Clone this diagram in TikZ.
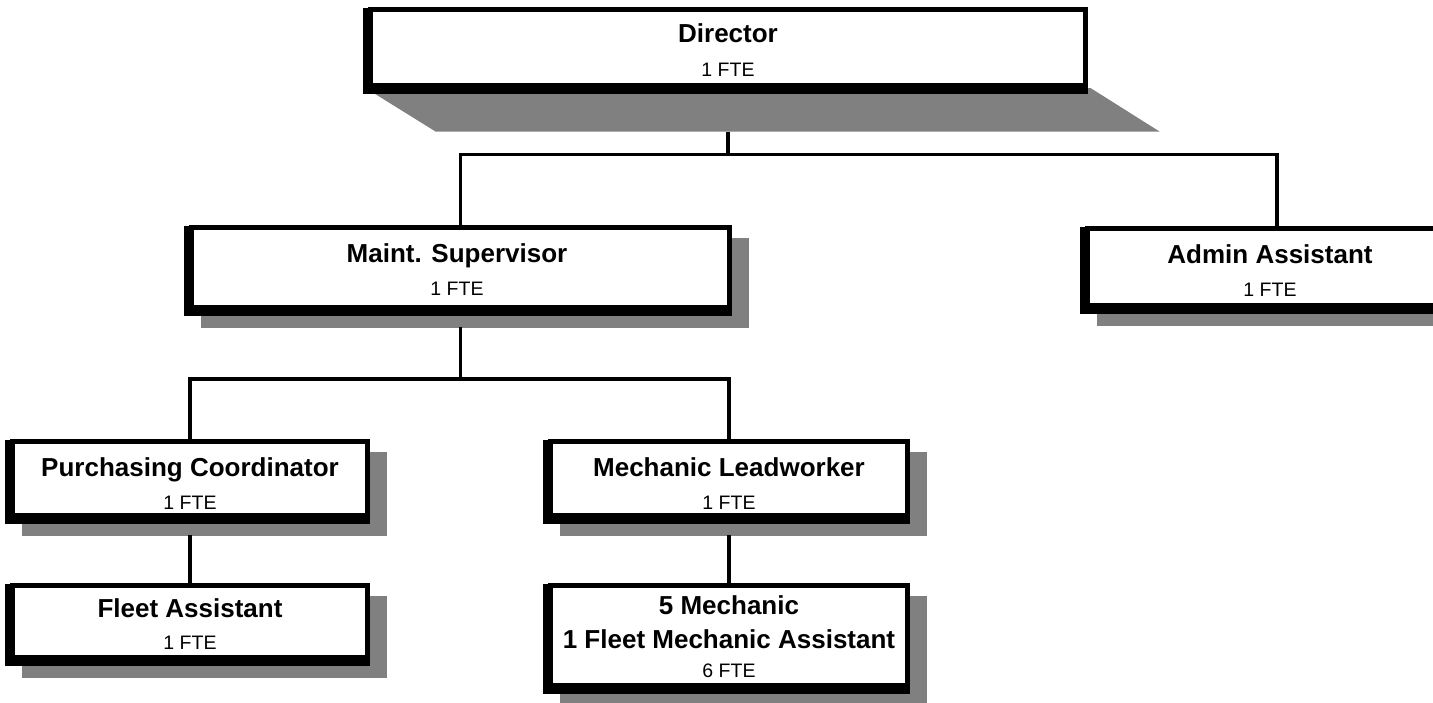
\documentclass[tikz,border=0pt]{standalone}
\usepackage{fontspec}
\setmainfont{Liberation Sans}
\usetikzlibrary{calc,backgrounds}
\definecolor{shgray}{RGB}{128,128,128}
\newcommand\orgdeco[1]{%
  \fill[shgray] ($(#1.south west)+(11.5,17.5)$) rectangle ($(#1.north east)+(16.5,12.5)$);
  \fill[black] ($(#1.south west)+(-5.5,5.5)$) rectangle ($(#1.north east)+(-0.5,0.5)$);}
\begin{document}
\begin{tikzpicture}[x=1pt,y=-1pt,
  box/.style={draw=black, line width=5pt, fill=white, inner sep=0pt, rectangle},
  conn/.style={draw=black, line width=3.5pt},
  ttl/.style={font=\fontsize{26}{30}\selectfont\bfseries, anchor=base, inner sep=0pt},
  fte/.style={font=\fontsize{19.5}{24}\selectfont, anchor=base, inner sep=0pt}]
\useasboundingbox (0,0) rectangle (1433,702);

% boxes
\node[box, minimum width=715pt, minimum height=76pt] (dir) at (728,47.5) {};
\node[box, minimum width=538pt, minimum height=80pt] (maint) at (460.5,267.5) {};
\node[box, minimum width=379pt, minimum height=77pt] (admin) at (1277,267) {};
\node[box, minimum width=355pt, minimum height=74pt] (purch) at (190,478.5) {};
\node[box, minimum width=357pt, minimum height=74pt] (lead) at (729,478.5) {};
\node[box, minimum width=355pt, minimum height=72pt] (fleet) at (190,621.5) {};
\node[box, minimum width=357pt, minimum height=100pt] (mech) at (729,635.5) {};

% shadows
\begin{scope}[on background layer]
  \fill[shgray] ($(dir.south west)+(-2.5,0)$) -- ($(dir.south east)+(2.5,0)$) -- ++(69,43.5)
    -- ($(dir.south west)+(67.5,43.5)$) -- cycle;
  \fill[black] ($(dir.south west)+(-5.5,5.5)$) rectangle ($(dir.north east)+(-0.5,0.5)$);
  \orgdeco{maint}
  \orgdeco{admin}
  \orgdeco{purch}
  \orgdeco{lead}
  \orgdeco{fleet}
  \orgdeco{mech}
\end{scope}

% connectors
\path (dir.south) ++(0,43.5) coordinate (dirsh);
\draw[conn] (dirsh) -- ++(0,23) coordinate (j1);
\draw[conn] (maint.north) |- (j1) -| (admin.north);
\path (maint.south) ++(0,16.5) coordinate (msh);
\draw[conn] (msh) -- ++(0,52.5) coordinate (j2);
\draw[conn] (purch.north) |- (j2) -| (lead.north);
\path (purch.south) ++(0,17) coordinate (psh);
\draw[conn] (psh) -- (fleet.north);
\path (lead.south) ++(0,17) coordinate (lsh);
\draw[conn] (lsh) -- (mech.north);

% texts
\node[ttl] (dirT) at (728,42) {Director};
\node[fte] (dirF) at (728,76) {1 FTE};
\node[ttl] (maintT) at (457,262.3) {Maint. Supervisor};
\node[fte] (maintF) at (457,295) {1 FTE};
\node[ttl] (adminT) at (1270,263) {Admin Assistant};
\node[fte] (adminF) at (1270,296) {1 FTE};
\node[ttl] (purchT) at (190,476.3) {Purchasing Coordinator};
\node[fte] (purchF) at (190,509) {1 FTE};
\node[ttl] (leadT) at (729,476.3) {Mechanic Leadworker};
\node[fte] (leadF) at (729,509) {1 FTE};
\node[ttl] (fleetT) at (190,617.3) {Fleet Assistant};
\node[fte] (fleetF) at (190,649) {1 FTE};
\node[ttl] (mechT1) at (729,614) {5 Mechanic};
\node[ttl] (mechT2) at (729,648) {1 Fleet Mechanic Assistant};
\node[fte] (mechF) at (729,677) {6 FTE};
\end{tikzpicture}
\end{document}
